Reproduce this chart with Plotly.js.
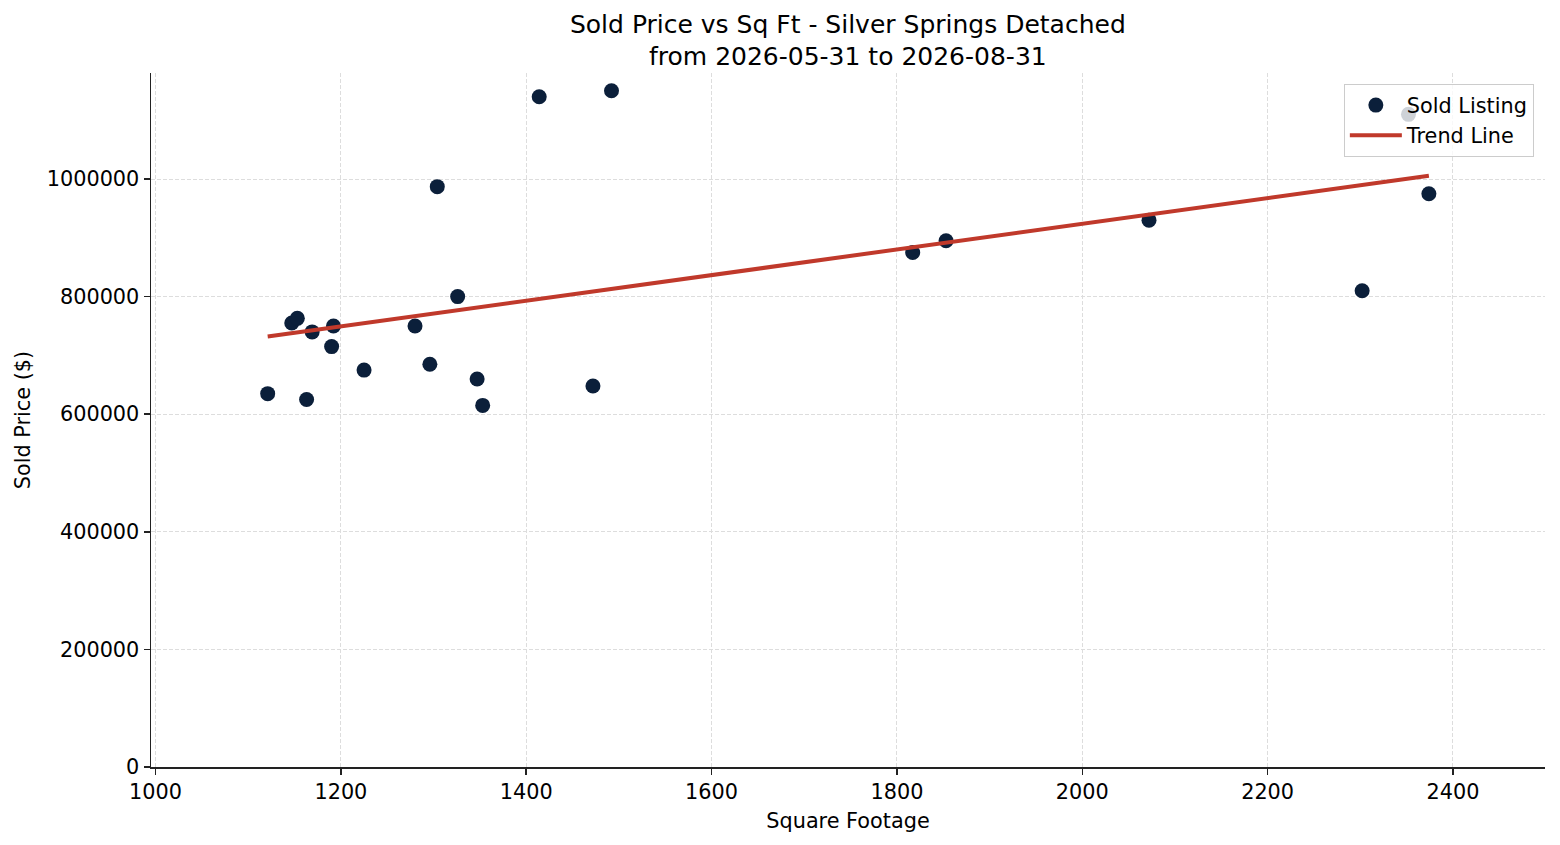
<!DOCTYPE html>
<html>
<head>
<meta charset="utf-8">
<script src="https://cdn.plot.ly/plotly-3.0.1.min.js"></script>
<style>
  html, body { margin: 0; padding: 0; background: #fff; }
  #chart { width: 1560px; height: 845px; }
</style>
</head>
<body>
<div id="chart"></div>
<script>
'use strict';

// sold listings
var sqft = [1121, 1147, 1153, 1163, 1169, 1190, 1192, 1225, 1280, 1296, 1304, 1326,
    1347, 1353, 1414, 1472, 1492, 1817, 1853, 2072, 2302, 2352, 2374];
var soldPrice = [635000, 755000, 763000, 625000, 740000, 715000, 750000, 675000, 750000,
    685000, 987000, 800000, 660000, 615000, 1140000, 648000, 1150000, 875000, 895000,
    930000, 810000, 1110000, 975000];

// trend line end points
var trendX = [1121, 2374];
var trendY = [732000, 1005500];

var font = 'DejaVu Sans, Liberation Sans, sans-serif';

var data = [{
    x: sqft,
    y: soldPrice,
    name: 'Sold Listing',
    type: 'scatter',
    mode: 'markers',
    marker: { color: '#0b1f3a', size: 15 }
}, {
    x: trendX,
    y: trendY,
    name: 'Trend Line',
    type: 'scatter',
    mode: 'lines',
    line: { color: '#c0392b', width: 4 }
}];

var layout = {
    width: 1560,
    height: 845,
    paper_bgcolor: '#fff',
    plot_bgcolor: '#fff',
    font: { family: font, size: 20.8, color: '#000' },
    hovermode: false,
    margin: { l: 151, r: 15, t: 73, b: 78, pad: 0 },
    title: {
        text: 'Sold Price vs Sq Ft - Silver Springs Detached<br>from 2026-05-31 to 2026-08-31',
        font: { family: font, size: 25, color: '#000' },
        x: 0.5435,
        xanchor: 'center',
        y: 0.961,
        yref: 'container',
        yanchor: 'top'
    },
    xaxis: {
        range: [995.1, 2499.3],
        tick0: 1000,
        dtick: 200,
        ticks: 'outside',
        ticklen: 6,
        tickwidth: 1.5,
        tickcolor: '#222',
        showline: true,
        linecolor: '#222',
        linewidth: 1.5,
        showgrid: true,
        gridcolor: '#dddddd',
        griddash: '4px,2px',
        gridwidth: 1,
        zeroline: false,
        tickfont: { family: font, size: 20.8, color: '#000' },
        title: { text: 'Square Footage', font: { family: font, size: 20.8, color: '#000' }, standoff: 10 }
    },
    yaxis: {
        range: [0, 1180300],
        tick0: 0,
        dtick: 200000,
        tickformat: 'd',
        ticks: 'outside',
        ticklen: 6,
        tickwidth: 1.5,
        tickcolor: '#222',
        showline: true,
        linecolor: '#222',
        linewidth: 1.5,
        showgrid: true,
        gridcolor: '#dddddd',
        griddash: '4px,2px',
        gridwidth: 1,
        zeroline: false,
        tickfont: { family: font, size: 20.8, color: '#000' },
        title: { text: 'Sold Price ($)', font: { family: font, size: 20.8, color: '#000' }, standoff: 10 }
    },
    showlegend: true,
    legend: {
        x: 0.992,
        y: 0.984,
        xanchor: 'right',
        yanchor: 'top',
        bgcolor: 'rgba(255,255,255,0.8)',
        bordercolor: '#cccccc',
        borderwidth: 1,
        itemwidth: 52,
        font: { family: font, size: 20.8, color: '#000' },
        tracegroupgap: 0
    }
};

Plotly.newPlot('chart', data, layout, { displayModeBar: false, staticPlot: true });
</script>
</body>
</html>
